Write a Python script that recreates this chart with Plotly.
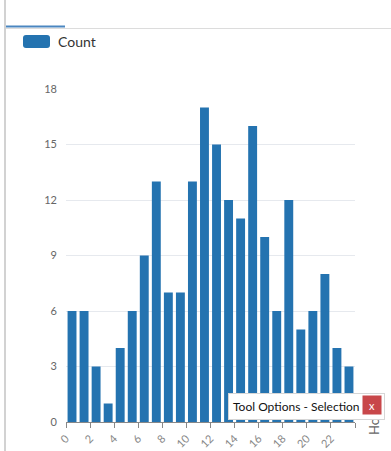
import plotly.graph_objects as go

hours = list(range(24))
counts = [6, 6, 3, 1, 4, 6, 9, 13, 7, 7, 13, 17, 15, 12, 11, 16, 10, 6, 12, 5, 6, 8, 4, 3]
y_ticks = [0, 3, 6, 9, 12, 15, 18]
x_tickvals = list(range(0, 25, 2))
x_ticktext = [str(v) for v in range(0, 23, 2)] + [""]

W, H = 391, 451
PX0, PX1, PY0, PY1 = 66, 355, 89, 422
BLUE = "#2473b0"
FONT = "Lato, Open Sans, sans-serif"


def px(x):
    return (x - PX0) / (PX1 - PX0)


def py(y):
    return (PY1 - y) / (PY1 - PY0)


fig = go.Figure()
fig.add_trace(go.Bar(
    x=[h + 0.5 for h in hours], y=counts, width=0.74,
    marker=dict(color=BLUE, line=dict(width=0)),
    name="Count", showlegend=False, hoverinfo="y",
))

shapes = []
shapes.append(dict(type="line", xref="paper", yref="paper", x0=px(5), x1=px(5), y0=py(0), y1=py(H),
                   line=dict(color="#d2d2d2", width=2)))
shapes.append(dict(type="line", xref="paper", yref="paper", x0=px(6), x1=px(W), y0=py(28.5), y1=py(28.5),
                   line=dict(color="#dcdcdc", width=1)))
shapes.append(dict(type="line", xref="paper", yref="paper", x0=px(6), x1=px(65), y0=py(26.5), y1=py(26.5),
                   line=dict(color="#4a86c0", width=2)))
lx0, lx1, ly0, ly1, r = 23, 50, 35, 48, 3
path = (f"M {px(lx0+r)},{py(ly0)} L {px(lx1-r)},{py(ly0)} Q {px(lx1)},{py(ly0)} {px(lx1)},{py(ly0+r)} "
        f"L {px(lx1)},{py(ly1-r)} Q {px(lx1)},{py(ly1)} {px(lx1-r)},{py(ly1)} "
        f"L {px(lx0+r)},{py(ly1)} Q {px(lx0)},{py(ly1)} {px(lx0)},{py(ly1-r)} "
        f"L {px(lx0)},{py(ly0+r)} Q {px(lx0)},{py(ly0)} {px(lx0+r)},{py(ly0)} Z")
shapes.append(dict(type="path", xref="paper", yref="paper", path=path,
                   fillcolor=BLUE, line=dict(width=0)))

annotations = []
annotations.append(dict(xref="paper", yref="paper", x=px(56), y=py(41.5), xanchor="left", yanchor="middle",
                        text="Count", showarrow=False, font=dict(size=14, color="#333333")))
# cut-off axis title (mostly hidden by popup)
annotations.append(dict(xref="paper", yref="paper", x=px(373.5), y=py(437), xanchor="center", yanchor="bottom",
                        text="Hour", textangle=-90, showarrow=False, font=dict(size=13, color="#666666")))
# popup box
annotations.append(dict(xref="paper", yref="paper", x=px(228), y=py(393), xanchor="left", yanchor="top",
                        text=" ", showarrow=False, width=155, height=25, bgcolor="#ffffff",
                        bordercolor="#d6d6d6", borderwidth=1, borderpad=0))
annotations.append(dict(xref="paper", yref="paper", x=px(231), y=py(406.5), xanchor="left", yanchor="middle",
                        text="Tool Options - Selection", showarrow=False, align="left",
                        font=dict(size=12, color="#111111")))
annotations.append(dict(xref="paper", yref="paper", x=px(372), y=py(405), xanchor="center", yanchor="middle",
                        text="x", showarrow=False, width=16, height=16, bgcolor="#c8474a",
                        font=dict(size=11, color="#ffffff")))

fig.update_layout(
    width=W, height=H,
    margin=dict(l=PX0, r=W - PX1, t=PY0, b=H - PY1, autoexpand=False),
    paper_bgcolor="white", plot_bgcolor="white",
    font=dict(family=FONT),
    showlegend=False,
    shapes=shapes, annotations=annotations,
    xaxis=dict(range=[0, 24], tickmode="array", tickvals=x_tickvals, ticktext=x_ticktext,
               tickangle=-45, ticks="outside", ticklen=5, tickcolor="#888888",
               showline=True, linecolor="#888888", linewidth=1, showgrid=False, zeroline=False,
               tickfont=dict(size=11, color="#888888"), automargin=False),
    yaxis=dict(range=[0, 18], tickmode="array", tickvals=y_ticks, showgrid=True, gridcolor="#e6e9ee",
               gridwidth=1, zeroline=False, showline=False, ticks="", ticklabelstandoff=8,
               tickfont=dict(size=11, color="#666666"), automargin=False),
)

fig.write_html("out.html", config={"displayModeBar": False},
               post_script="document.body.style.margin='0px';")
